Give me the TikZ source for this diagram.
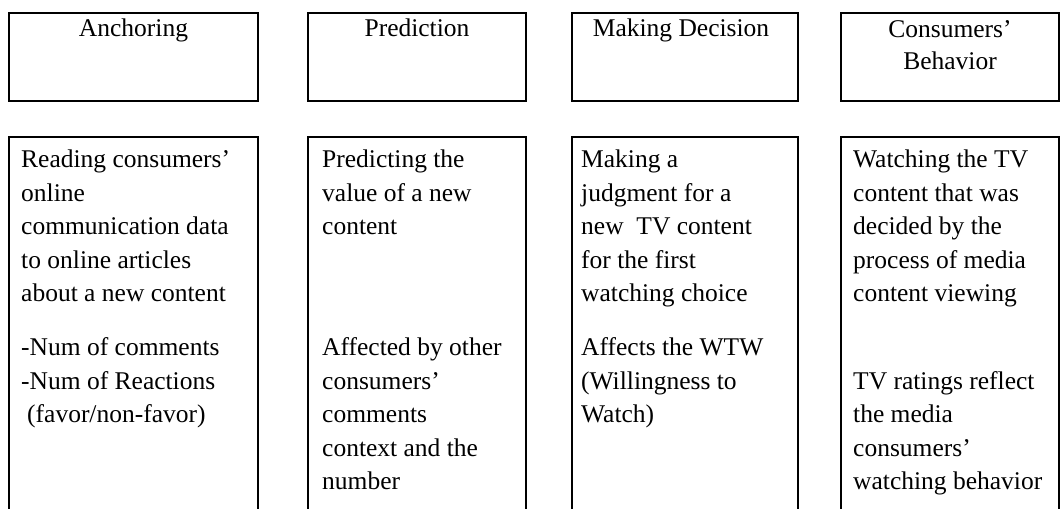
\documentclass[tikz,border=0pt]{standalone}
\usepackage{fontspec}
\setmainfont{Liberation Serif}
\usetikzlibrary{positioning, calc}

\begin{document}
\begin{tikzpicture}[x=1pt, y=-1pt,
  headbox/.style={draw, line width=2pt, minimum height=88pt, inner sep=0pt},
  bodybox/.style={draw, line width=2pt, minimum height=423pt, inner sep=0pt},
  headtxt/.style={font=\fontsize{25.5}{32}\selectfont, align=center, inner sep=0pt, anchor=north},
  bodytxt/.style={font=\fontsize{25.5}{33.5}\selectfont, align=left, inner sep=0pt, anchor=north west}
]
  \useasboundingbox (0,0) rectangle (1061,509);
  \clip (0,0) rectangle (1061,509);

  % Header boxes
  \node[headbox, minimum width=249pt] (hAnch) at (133.5,57) {};
  \node[headbox, minimum width=218pt] (hPred) at (417,57)   {};
  \node[headbox, minimum width=226pt] (hDec)  at (685,57)   {};
  \node[headbox, minimum width=218pt] (hBeh)  at (950,57)   {};

  % Body boxes (open at the bottom, they run off the page)
  \node[bodybox, minimum width=249pt] (bAnch) at (133.5,348.5) {};
  \node[bodybox, minimum width=218pt] (bPred) at (417,348.5)   {};
  \node[bodybox, minimum width=226pt] (bDec)  at (685,348.5)   {};
  \node[bodybox, minimum width=218pt] (bBeh)  at (950,348.5)   {};

  % Header labels (a strut on the first line fixes the baseline)
  \node[headtxt] (lAnch) at ([yshift=-2pt]hAnch.north) {\strut Anchoring};
  \node[headtxt] (lPred) at ([yshift=-2pt]hPred.north) {\strut Prediction};
  \node[headtxt] (lDec)  at ([xshift=-4pt, yshift=-2pt]hDec.north) {\strut Making Decision};
  \node[headtxt] (lBeh)  at ([yshift=-3pt]hBeh.north)  {\strut Consumers’\\Behavior};

  % Body texts
  \node[bodytxt] (tAnch) at ([xshift=13pt, yshift=-8pt]bAnch.north west)
    {\strut Reading consumers’\\online\\communication data\\to online articles\\about a new content\\[20.5pt]
     -Num of comments\\-Num of Reactions\\\hspace*{6pt}(favor/non-favor)};
  \node[bodytxt] (tPred) at ([xshift=15pt, yshift=-8pt]bPred.north west)
    {\strut Predicting the\\value of a new\\content\\[87.5pt]
     Affected by other\\consumers’\\comments\\context and the\\number};
  \node[bodytxt] (tDec)  at ([xshift=10pt, yshift=-8pt]bDec.north west)
    {\strut Making a\\judgment for a\\new\ \ TV content\\for the first\\watching choice\\[20.5pt]
     Affects the WTW\\(Willingness to\\Watch)};
  \node[bodytxt] (tBeh)  at ([xshift=13pt, yshift=-8pt]bBeh.north west)
    {\strut Watching the TV\\content that was\\decided by the\\process of media\\content viewing\\[54pt]
     TV ratings reflect\\the media\\consumers’\\watching behavior};

\end{tikzpicture}
\end{document}
